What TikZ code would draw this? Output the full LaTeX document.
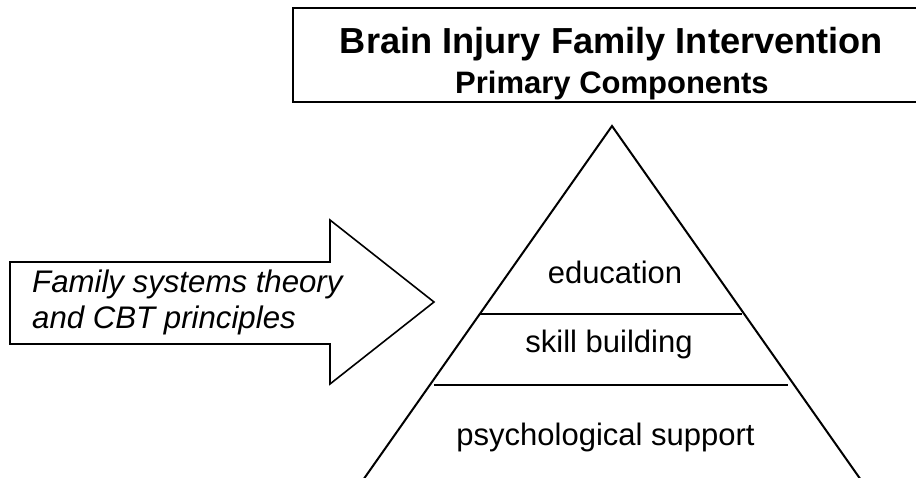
\documentclass[tikz,border=0pt]{standalone}
\usepackage{fontspec}
\setmainfont{Liberation Sans}
\begin{document}
\begin{tikzpicture}[x=1pt,y=-1pt,
  thinline/.style={draw=black,line width=1.6pt,line join=miter},
  pyrline/.style={draw=black,line width=2pt,line join=miter},
  layerline/.style={draw=black,line width=1.8pt},
  titletext/.style={anchor=base,inner sep=0pt,font=\fontsize{36.2}{40}\selectfont\bfseries},
  subtext/.style={anchor=base,inner sep=0pt,font=\fontsize{31}{34}\selectfont\bfseries},
  arrowtext/.style={anchor=base west,inner sep=0pt,font=\fontsize{31.2}{34}\selectfont\itshape},
  layertext/.style={anchor=base,inner sep=0pt,font=\fontsize{31}{34}\selectfont}]
\clip (0,0) rectangle (916,477);
\fill[white] (0,0) rectangle (916,477);
% title box
\draw[thinline] (293,8) rectangle (925,102);
\node[titletext] (title) at (611.5,53) {Brain Injury Family Intervention};
\node[subtext] (subtitle) at (612,93) {Primary Components};
% arrow
\coordinate (a1) at (10,262);
\coordinate (a2) at (330,262);
\coordinate (a3) at (330,220);
\coordinate (tip) at (434,302);
\coordinate (a5) at (330,384);
\coordinate (a6) at (330,344);
\coordinate (a7) at (10,344);
\draw[thinline] (a1) -- (a2) -- (a3) -- (tip) -- (a5) -- (a6) -- (a7) -- cycle;
\node[arrowtext] (fam1) at (32,292) {Family systems theory};
\node[arrowtext] (fam2) at (32,328) {and CBT principles};
% pyramid
\coordinate (apex) at (612,126);
\coordinate (bl) at (356,490);
\coordinate (br) at (868,490);
\draw[pyrline] (bl) -- (apex) -- (br);
\coordinate (l1a) at (480,314);
\coordinate (l1b) at (742,314);
\coordinate (l2a) at (434,385);
\coordinate (l2b) at (788,385);
\draw[layerline] (l1a) -- (l1b);
\draw[layerline] (l2a) -- (l2b);
\node[layertext] (edu) at (615,283) {education};
\node[layertext] (skill) at (609,352) {skill building};
\node[layertext] (psy) at (605.5,445) {psychological support};
\end{tikzpicture}
\end{document}
